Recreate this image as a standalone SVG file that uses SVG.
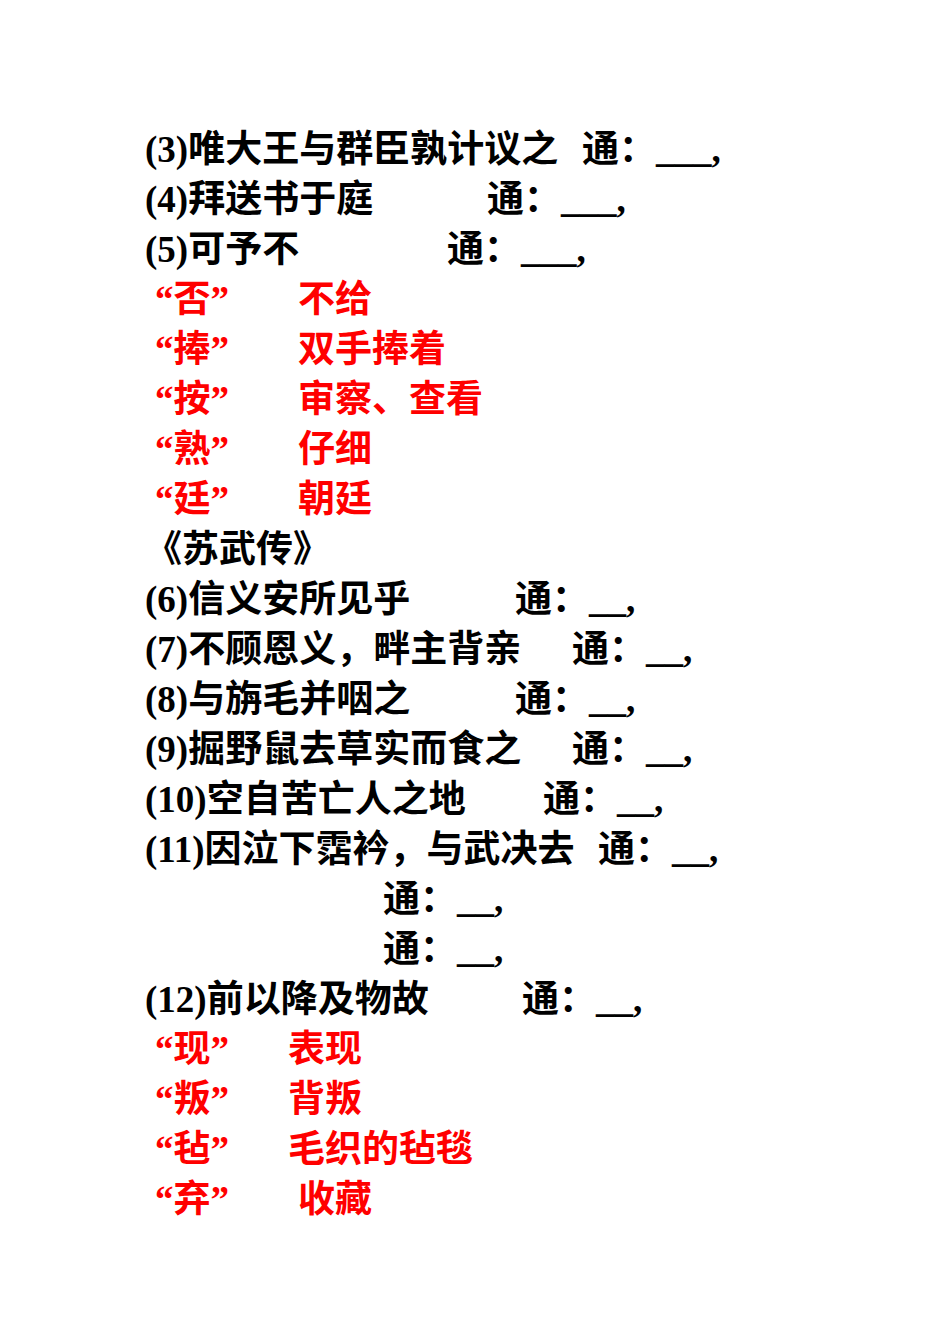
<svg xmlns="http://www.w3.org/2000/svg" width="950" height="1344" viewBox="0 0 950 1344">
<style>
text{font-family:"Liberation Serif","Noto Sans CJK SC",serif;font-size:37px;font-weight:bold;fill:#000}
.r{fill:#ff0000}
</style>
<rect width="950" height="1344" fill="#fff"/>
<g id="text">
<text x="145" y="162">(3)唯大王与群臣孰计议之</text><text x="582" y="162">通：___,</text>
<text x="145" y="212">(4)拜送书于庭</text><text x="487" y="212">通：___,</text>
<text x="145" y="262">(5)可予不</text><text x="447" y="262">通：___,</text>
<text class="r" x="155" y="312">“否”</text><text class="r" x="298" y="312">不给</text>
<text class="r" x="155" y="362">“捧”</text><text class="r" x="298" y="362">双手捧着</text>
<text class="r" x="155" y="412">“按”</text><text class="r" x="298" y="412">审察、查看</text>
<text class="r" x="155" y="462">“熟”</text><text class="r" x="298" y="462">仔细</text>
<text class="r" x="155" y="512">“廷”</text><text class="r" x="298" y="512">朝廷</text>
<text x="145" y="562">《苏武传》</text>
<text x="145" y="612">(6)信义安所见乎</text><text x="515" y="612">通：__,</text>
<text x="145" y="662">(7)不顾恩义，畔主背亲</text><text x="572" y="662">通：__,</text>
<text x="145" y="712">(8)与旃毛并咽之</text><text x="515" y="712">通：__,</text>
<text x="145" y="762">(9)掘野鼠去草实而食之</text><text x="572" y="762">通：__,</text>
<text x="145" y="812">(10)空自苦亡人之地</text><text x="543" y="812">通：__,</text>
<text x="145" y="862">(11)因泣下霑衿，与武决去</text><text x="598" y="862">通：__,</text>
<text x="383" y="912">通：__,</text>
<text x="383" y="962">通：__,</text>
<text x="145" y="1012">(12)前以降及物故</text><text x="522" y="1012">通：__,</text>
<text class="r" x="155" y="1062">“现”</text><text class="r" x="288" y="1062">表现</text>
<text class="r" x="155" y="1112">“叛”</text><text class="r" x="288" y="1112">背叛</text>
<text class="r" x="155" y="1162">“毡”</text><text class="r" x="288" y="1162">毛织的毡毯</text>
<text class="r" x="155" y="1212">“弃”</text><text class="r" x="298" y="1212">收藏</text>
</g>
</svg>
